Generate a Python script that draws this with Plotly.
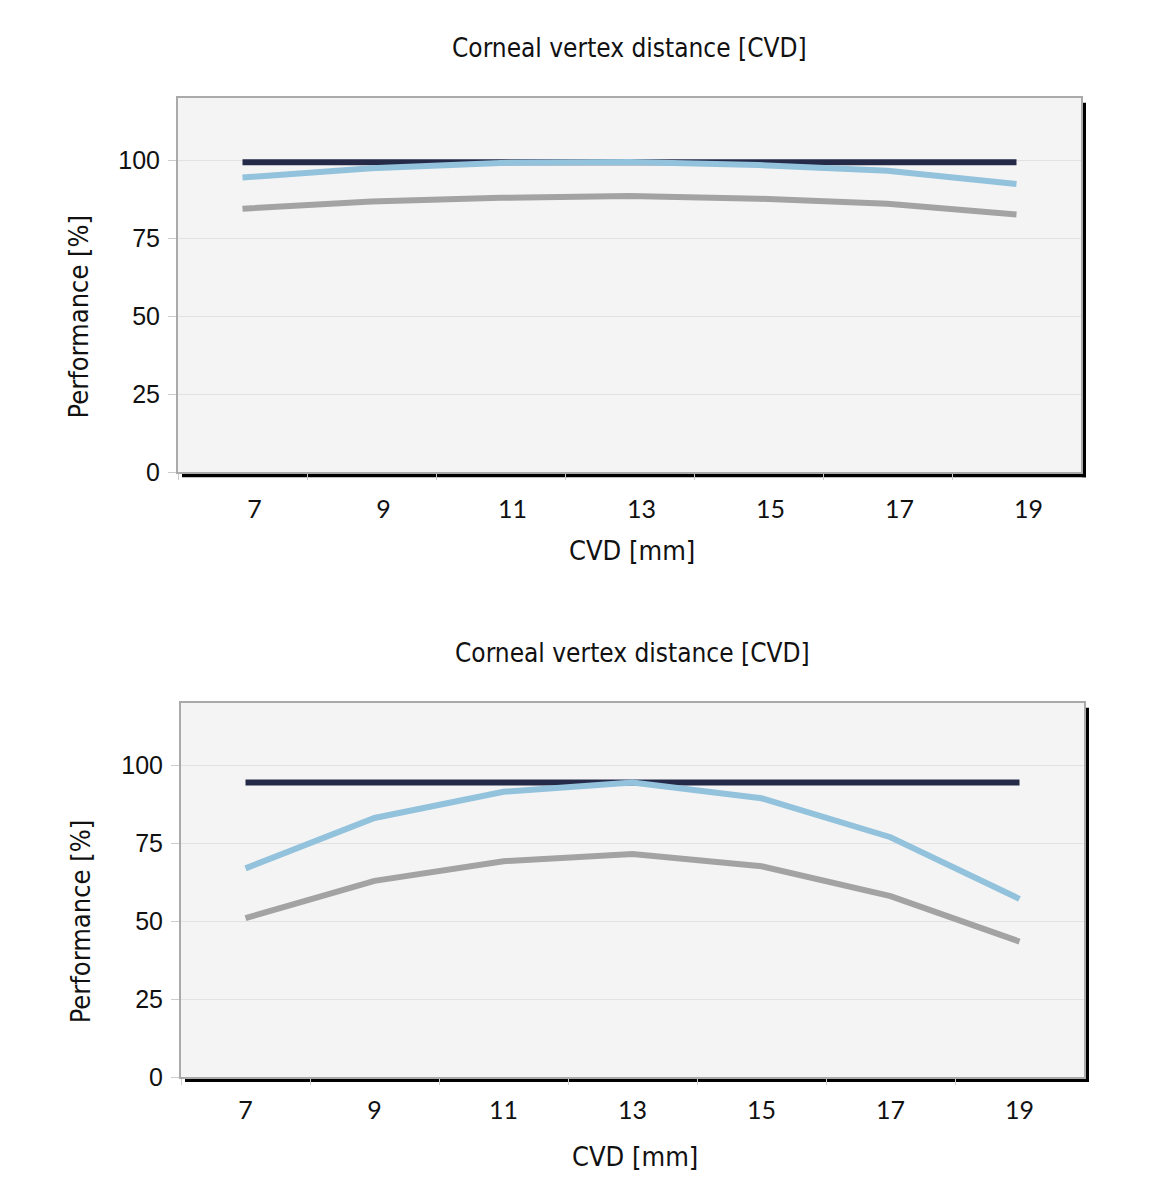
import plotly.graph_objects as go

# ---------------- data ----------------
cvd_mm = ["7", "9", "11", "13", "15", "17", "19"]

top_dark = [99.5, 99.5, 99.5, 99.5, 99.5, 99.5, 99.5]
top_light = [94.6, 97.6, 99.3, 99.6, 98.6, 96.8, 92.5]
top_gray = [84.6, 86.9, 88.1, 88.7, 87.8, 86.2, 82.7]

bot_dark = [94.6, 94.6, 94.6, 94.6, 94.6, 94.6, 94.6]
bot_light = [67.0, 83.2, 91.6, 94.6, 89.5, 77.0, 57.2]
bot_gray = [51.0, 63.0, 69.3, 71.6, 67.7, 58.1, 43.5]

y_ticks = [0, 25, 50, 75, 100]
title_text = "Corneal vertex distance [CVD]"
x_title = "CVD [mm]"
y_title = "Performance [%]"

# ---------------- styling ----------------
OFF = 8  # default body margin of the html page
W, H = 1163 - 2 * OFF, 1184
YOFF, YSC = 7.0, 0.99
COND = "Liberation Sans Narrow, DejaVu Sans Condensed, Arial Narrow, sans-serif"
C_DARK = "#252a48"
C_LIGHT = "#93c2dc"
C_GRAY = "#a3a3a3"


def px(x):
    return (x - OFF) / W


def py(y):
    return 1 - ((y - YOFF) / YSC) / H


fig = go.Figure()

panels = [
    dict(dark=top_dark, light=top_light, gray=top_gray, xa="x", ya="y",
         box=(178, 97, 1081, 472), shift=12, standoff=14,
         title_xy=(629, 47), xt_xy=(632, 551), yt_x=78),
    dict(dark=bot_dark, light=bot_light, gray=bot_gray, xa="x2", ya="y2",
         box=(181, 703, 1084, 1078), shift=0, standoff=10,
         title_xy=(632, 653), xt_xy=(635, 1158), yt_x=80),
]

shapes = []
annotations = []
for i, p in enumerate(panels):
    for vals, col in ((p["dark"], C_DARK), (p["light"], C_LIGHT), (p["gray"], C_GRAY)):
        fig.add_trace(go.Scatter(x=cvd_mm, y=vals, mode="lines", xaxis=p["xa"], yaxis=p["ya"],
                                 line=dict(color=col, width=6), showlegend=False, hoverinfo="skip"))
    x0, y0, x1, y1 = p["box"]
    sfx = "" if i == 0 else "2"
    fig.update_layout(**{
        "xaxis" + sfx: dict(
            domain=[px(x0), px(x1)], anchor="y" + sfx, type="category",
            range=[-0.5, 6.5], tickson="boundaries", ticks="outside", ticklen=6,
            tickcolor="#cccccc", tickwidth=1, showgrid=False, showline=True,
            linecolor="#aaaaaa", linewidth=2, mirror=True, zeroline=False,
            tickfont=dict(family="Lato, Noto Sans, sans-serif", size=25, color="#111"),
            ticklabelshift=p["shift"], ticklabelstandoff=p["standoff"],
        ),
        "yaxis" + sfx: dict(
            domain=[py(y1), py(y0)], anchor="x" + sfx, range=[0, 120.2],
            tickvals=y_ticks, ticks="outside", ticklen=8, tickcolor="#cccccc",
            showgrid=True, gridcolor="#e2e2e2", gridwidth=1, zeroline=False,
            showline=True, linecolor="#aaaaaa", linewidth=2, mirror=True,
            tickfont=dict(family="Liberation Sans, Arial, sans-serif", size=25, color="#111"),
            ticklabelstandoff=3,
        ),
    })
    # drop shadow on right and bottom
    shapes.append(dict(type="rect", xref="paper", yref="paper", x0=px(x1 + 1), x1=px(x1 + 5),
                       y0=py(y1 + 5), y1=py(y0 + 5), fillcolor="#000", line_width=0, layer="below"))
    shapes.append(dict(type="rect", xref="paper", yref="paper", x0=px(x0 + 4), x1=px(x1 + 5),
                       y0=py(y1 + 5), y1=py(y1 + 1), fillcolor="#000", line_width=0, layer="below"))
    annotations.append(dict(text=title_text, xref="paper", yref="paper", x=px(p["title_xy"][0]),
                            y=py(p["title_xy"][1]), xanchor="center", yanchor="middle", showarrow=False,
                            font=dict(family=COND, size=26, color="#111")))
    annotations.append(dict(text=x_title, xref="paper", yref="paper", x=px(p["xt_xy"][0]),
                            y=py(p["xt_xy"][1]), xanchor="center", yanchor="middle", showarrow=False,
                            font=dict(family=COND, size=27, color="#111")))
    annotations.append(dict(text=y_title, xref="paper", yref=p["ya"], x=px(p["yt_x"]), y=50,
                            xanchor="center", yanchor="middle", textangle=-90, showarrow=False,
                            font=dict(family=COND, size=27, color="#111")))

fig.update_layout(
    width=W, height=H, margin=dict(l=0, r=0, t=0, b=0),
    paper_bgcolor="white", plot_bgcolor="#f4f4f4",
    shapes=shapes, annotations=annotations,
)

fig.write_html("out.html")
